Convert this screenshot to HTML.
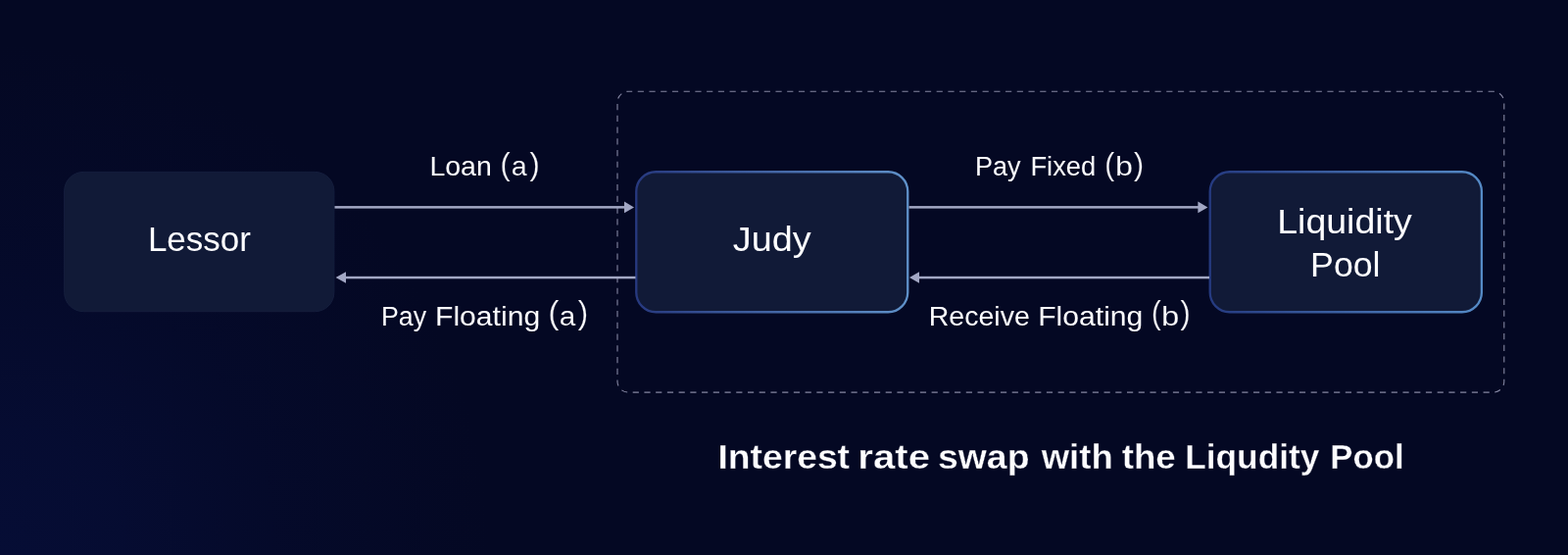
<!DOCTYPE html>
<html lang="en">
<head>
<meta charset="utf-8">
<title>Interest rate swap with the Liqudity Pool</title>
<style>
  html,body{margin:0;padding:0;}
  body{width:1600px;height:566px;overflow:hidden;position:relative;background:#040823;
    font-family:"Liberation Sans",sans-serif;}
  .bg{position:absolute;left:0;top:0;width:1600px;height:566px;
    background:
      radial-gradient(ellipse 500px 520px at 0px 566px, #060d35 0%, rgba(6,13,53,0.8) 25%, rgba(6,13,53,0.4) 55%, rgba(6,13,53,0) 100%),
      #040823;}
  svg{position:absolute;left:0;top:0;display:block;will-change:transform;}
  svg text{font-family:"Liberation Sans",sans-serif;fill:#fdfdff;stroke-linejoin:round;}
  .ttl text{stroke:#040823;stroke-width:0.3px;}
</style>
</head>
<body>
<div class="bg"></div>
<svg width="1600" height="566" viewBox="0 0 1600 566">
  <defs>
    <linearGradient id="bd" x1="0" y1="0" x2="1" y2="0">
      <stop offset="0" stop-color="#27397f"/>
      <stop offset="1" stop-color="#5f91c9"/>
    </linearGradient>
    <linearGradient id="bd2" x1="0" y1="0" x2="1" y2="0">
      <stop offset="0" stop-color="#253a80"/>
      <stop offset="1" stop-color="#558ac6"/>
    </linearGradient>
  </defs>
  <rect x="630" y="93.3" width="904.8" height="306.8" rx="11" ry="11" fill="none" stroke="#8587a3" stroke-width="1.1" stroke-dasharray="6.2 5.528" stroke-dashoffset="2"/>
  <rect x="65.6" y="175.4" width="275.3" height="142.3" rx="19.5" ry="19.5" fill="#111a37" stroke="#151e3d" stroke-width="1"/>
  <rect x="649.25" y="175.25" width="277" height="143" rx="20" ry="20" fill="#111a37" stroke="url(#bd)" stroke-width="2.3"/>
  <rect x="1234.7" y="175.25" width="277.2" height="143" rx="20" ry="20" fill="#111a37" stroke="url(#bd2)" stroke-width="2.3"/>
  <g fill="#a2a7c4" stroke="none">
    <rect x="341.5" y="210.1" width="297.5" height="2.5"/>
    <polygon points="637,205.6 647,211.4 637,217.2"/>
    <rect x="351" y="281.8" width="297.5" height="2.5"/>
    <polygon points="353,277.3 342.6,283 353,288.7"/>
    <rect x="927.5" y="210.1" width="297" height="2.5"/>
    <polygon points="1222.4,205.6 1232.4,211.4 1222.4,217.2"/>
    <rect x="937" y="281.8" width="297" height="2.5"/>
    <polygon points="938,277.3 928,283 938,288.7"/>
  </g>
  <g id="t1" class="onbox" font-size="35.0" aria-label="Lessor">
    <text id="t1_0" transform="translate(150.89,256) scale(1.0003,1)">Lessor</text>
  </g>
  <g id="t2" class="onbox" font-size="35.0" aria-label="Judy">
    <text id="t2_0" transform="translate(747.85,256) scale(1.0815,1)">Judy</text>
  </g>
  <g id="t3" class="onbox" font-size="35.0" aria-label="Liquidity">
    <text id="t3_0" transform="translate(1303.2,238) scale(1.0721,1)">Liquidity</text>
  </g>
  <g id="t4" class="onbox" font-size="35.0" aria-label="Pool">
    <text id="t4_0" transform="translate(1337.11,282) scale(1.0202,1)">Pool</text>
  </g>
  <g id="t5" class="lab" font-size="27.3" aria-label="Loan (a)">
    <text id="t5_0" transform="translate(438.39,179) scale(1.0435,1)">Loan</text> <text id="t5_1" stroke="#040823" stroke-width="0.2" transform="translate(510.38,178) scale(1.1152,1.1734)">(</text><text id="t5_2" stroke="#040823" stroke-width="0.12" transform="translate(521.86,179) scale(1.0519,1)">a</text><text id="t5_3" stroke="#040823" stroke-width="0.2" transform="translate(540.53,178) scale(1.1200,1.1734)">)</text>
  </g>
  <g id="t6" class="lab" font-size="27.3" aria-label="Pay Floating (a)">
    <text id="t6_0" transform="translate(388.98,332) scale(0.9807,1)">Pay</text> <text id="t6_1" transform="translate(444,332) scale(1.1039,1)">Floating</text> <text id="t6_2" stroke="#040823" stroke-width="0.2" transform="translate(559.51,330) scale(1.1920,1.1888)">(</text><text id="t6_3" stroke="#040823" stroke-width="0.12" transform="translate(570.86,332) scale(1.0921,1)">a</text><text id="t6_4" stroke="#040823" stroke-width="0.2" transform="translate(589.81,330) scale(1.1349,1.1888)">)</text>
  </g>
  <g id="t7" class="lab" font-size="27.3" aria-label="Pay Fixed (b)">
    <text id="t7_0" transform="translate(995.03,179) scale(0.9902,1)">Pay</text> <text id="t7_1" transform="translate(1051.44,179) scale(1.0013,1)">Fixed</text> <text id="t7_2" stroke="#040823" stroke-width="0.2" transform="translate(1127.37,178) scale(1.0931,1.1740)">(</text><text id="t7_3" stroke="#040823" stroke-width="0.12" transform="translate(1137.96,179) scale(1.1823,1)">b</text><text id="t7_4" stroke="#040823" stroke-width="0.2" transform="translate(1157.07,178) scale(1.1095,1.1769)">)</text>
  </g>
  <g id="t8" class="lab" font-size="27.3" aria-label="Receive Floating (b)">
    <text id="t8_0" transform="translate(947.72,332) scale(1.0454,1)">Receive</text> <text id="t8_1" transform="translate(1059.2,332) scale(1.1030,1)">Floating</text> <text id="t8_2" stroke="#040823" stroke-width="0.2" transform="translate(1174.94,330) scale(1.0684,1.1911)">(</text><text id="t8_3" stroke="#040823" stroke-width="0.12" transform="translate(1184.98,332) scale(1.2052,1)">b</text><text id="t8_4" stroke="#040823" stroke-width="0.2" transform="translate(1204.6,330) scale(1.1203,1.1888)">)</text>
  </g>
  <g id="t9" class="ttl" font-size="34.6" font-weight="700" aria-label="Interest rate swap with the Liqudity Pool">
    <text id="t9_0" transform="translate(732.39,478) scale(1.0775,1)">Interest</text> <text id="t9_1" transform="translate(875.3,478) scale(1.1616,1)">rate</text> <text id="t9_2" transform="translate(956.95,478) scale(1.0813,1)">swap</text> <text id="t9_3" transform="translate(1062.67,478) scale(1.0561,1)">with</text> <text id="t9_4" transform="translate(1144.72,478) scale(1.0609,1)">the</text> <text id="t9_5" transform="translate(1209.15,478) scale(1.0208,1)">Liqudity</text> <text id="t9_6" transform="translate(1357.23,478) scale(1.0055,1)">Pool</text>
  </g>
</svg>
</body>
</html>
